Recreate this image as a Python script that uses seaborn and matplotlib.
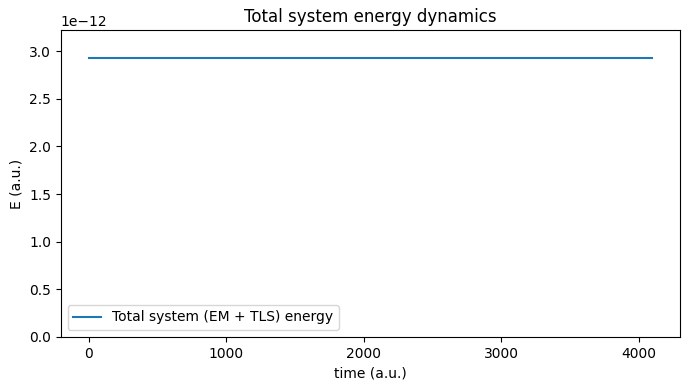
import numpy as np
import pandas as pd
import matplotlib
matplotlib.use("Agg")
import matplotlib.pyplot as plt
import seaborn as sns

# --- data ---
time_au = [0, 1024, 2048, 3072, 4096]
energy = [2.93e-12, 2.93e-12, 2.93e-12, 2.93e-12, 2.93e-12]

df = pd.DataFrame({"time": time_au, "E": energy})

fig, ax = plt.subplots(figsize=(6.9, 3.9), dpi=100)
sns.lineplot(data=df, x="time", y="E", ax=ax, color="#1f77b4",
             label="Total system (EM + TLS) energy")

ax.set_ylim(0, 1.1 * max(energy))
ax.set_title("Total system energy dynamics")
ax.set_xlabel("time (a.u.)")
ax.set_ylabel("E (a.u.)")
ax.legend(loc="lower left")

# axes box placed to match the reference
fig.subplots_adjust(left=0.088, right=0.986, top=0.923, bottom=0.136)
plt.savefig("out.png", dpi=100)
